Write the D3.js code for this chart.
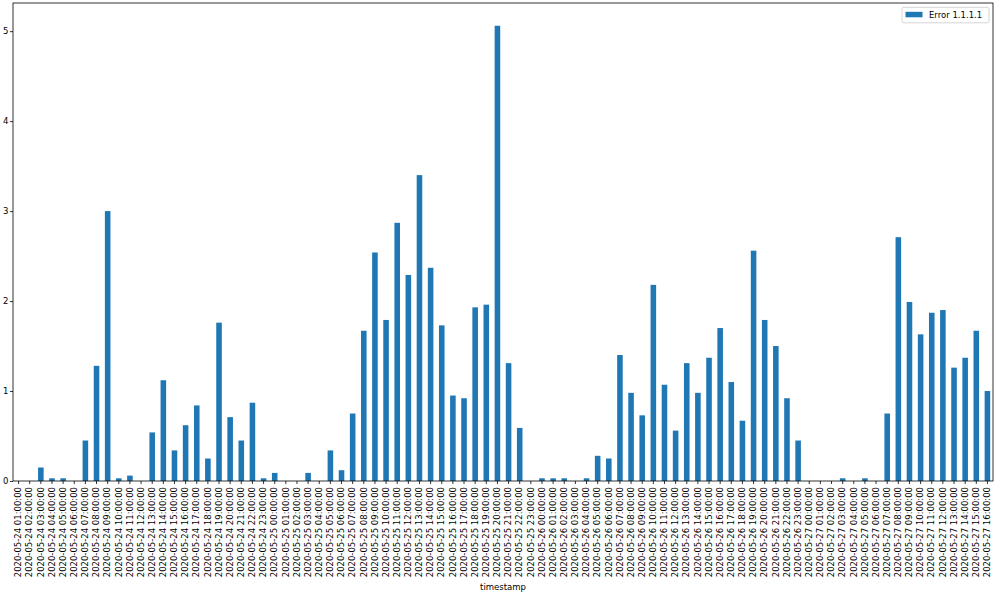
<!DOCTYPE html>
<html>
<head>
<meta charset="utf-8">
<script src="https://cdn.jsdelivr.net/npm/d3@7"></script>
<style>
  html, body { margin: 0; padding: 0; background: #fff; }
  svg { display: block; }
  text { font-family: "DejaVu Sans", sans-serif; }
</style>
</head>
<body>
<div id="chart"></div>
<script>
const days = ["2020-05-24", "2020-05-25", "2020-05-26", "2020-05-27"];
const seriesName = "Error 1.1.1.1";
const values = [
  0, 0, 0.15, 0.03, 0.03, 0, 0.45, 1.28, 3.0, 0.03, 0.06, 0, 0.54, 1.12, 0.34, 0.62,
  0.84, 0.25, 1.76, 0.71, 0.45, 0.87, 0.03,
  0.09, 0, 0, 0.09, 0, 0.34, 0.12, 0.75, 1.67, 2.54, 1.79, 2.87, 2.29, 3.40, 2.37,
  1.73, 0.95, 0.92, 1.93, 1.96, 5.06, 1.31, 0.59, 0,
  0.03, 0.03, 0.03, 0, 0.03, 0.28, 0.25, 1.40, 0.98, 0.73, 2.18, 1.07, 0.56, 1.31,
  0.98, 1.37, 1.70, 1.10, 0.67, 2.56, 1.79, 1.50, 0.92, 0.45,
  0, 0, 0, 0.03, 0, 0.03, 0, 0.75, 2.71, 1.99, 1.63, 1.87, 1.90, 1.26, 1.37, 1.67, 1.00
];
const yTicks = [0, 1, 2, 3, 4, 5];

// Build hourly timestamps: 2020-05-24 01:00:00 .. 2020-05-27 16:00:00
const categories = [];
days.forEach((d, di) => {
  const startH = di === 0 ? 1 : 0;
  const endH = di === days.length - 1 ? 16 : 23;
  for (let h = startH; h <= endH; h++) {
    categories.push(d + " " + String(h).padStart(2, "0") + ":00:00");
  }
});

const W = 999, H = 594;
const FS = 8.5;
const margin = { left: 13, right: 6, top: 3, bottom: 113 };
const iw = W - margin.left - margin.right;
const ih = H - margin.top - margin.bottom;

const svg = d3.select("#chart").append("svg")
  .attr("width", W).attr("height", H);

const g = svg.append("g").attr("transform", `translate(${margin.left},${margin.top})`);

const x = d3.scaleBand().domain(categories).range([0, iw]).paddingInner(0.5).paddingOuter(0.25);
const ymax = d3.max(values) * 1.05;
const y = d3.scaleLinear().domain([0, ymax]).range([ih, 0]);

// bars
g.selectAll("rect.bar").data(values).enter().append("rect")
  .attr("class", "bar")
  .attr("x", (d, i) => x(categories[i]))
  .attr("width", x.bandwidth())
  .attr("y", d => y(d))
  .attr("height", d => y(0) - y(d))
  .attr("fill", "#1f77b4");

// x axis
const xAxis = g.append("g").attr("transform", `translate(0,${ih})`)
  .call(d3.axisBottom(x).tickSize(3).tickSizeOuter(0));
xAxis.select(".domain").remove();
xAxis.selectAll(".tick line").attr("stroke", "#000").attr("stroke-width", 0.8);
xAxis.selectAll(".tick text")
  .attr("font-size", FS)
  .attr("fill", "#000")
  .attr("transform", "rotate(-90)")
  .attr("text-anchor", "end")
  .attr("x", -6)
  .attr("y", 0)
  .attr("dy", "0.32em");

// y axis
const yAxis = g.append("g")
  .call(d3.axisLeft(y).tickValues(yTicks).tickFormat(d3.format("d")).tickSize(3).tickSizeOuter(0));
yAxis.select(".domain").remove();
yAxis.selectAll(".tick line").attr("stroke", "#000").attr("stroke-width", 0.8);
yAxis.selectAll(".tick text").attr("font-size", FS).attr("fill", "#000").attr("x", -4.5);

// frame
g.append("rect").attr("x", 0).attr("y", 0).attr("width", iw).attr("height", ih)
  .attr("fill", "none").attr("stroke", "#000").attr("stroke-width", 0.8);

// x label
svg.append("text")
  .attr("x", margin.left + iw / 2).attr("y", 590)
  .attr("text-anchor", "middle").attr("font-size", FS).attr("fill", "#000")
  .text("timestamp");

// legend
const lg = g.append("g").attr("transform", `translate(${iw - 91},4.3)`);
lg.append("rect").attr("x", 0).attr("y", 0).attr("width", 87).attr("height", 15.5)
  .attr("rx", 2).attr("fill", "#fff").attr("fill-opacity", 0.8)
  .attr("stroke", "#ccc").attr("stroke-width", 0.8);
lg.append("rect").attr("x", 3.5).attr("y", 4.5).attr("width", 17).attr("height", 5.5)
  .attr("fill", "#1f77b4");
lg.append("text").attr("x", 27).attr("y", 10.5).attr("font-size", FS).attr("fill", "#000")
  .text(seriesName);
</script>
</body>
</html>
